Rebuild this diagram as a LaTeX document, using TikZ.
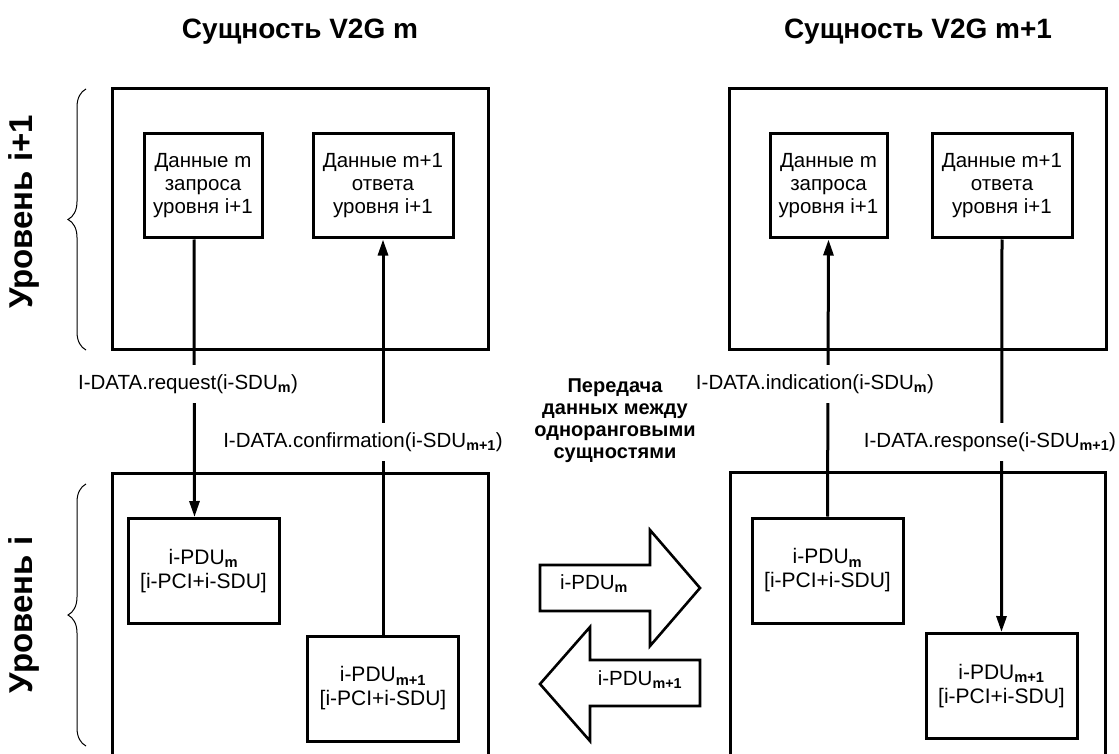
\documentclass[tikz,border=0pt]{standalone}
\usepackage{fontspec}
\setmainfont{Liberation Sans}
\usetikzlibrary{arrows.meta,decorations.pathreplacing,positioning}

\newcommand{\lowidx}[1]{\textsubscript{\bfseries #1}}

\tikzset{
  frameline/.style={line width=3pt},
  databox/.style={draw, line width=3pt, align=center, inner sep=0pt},
  primbox/.style={draw, line width=3pt, align=center, inner sep=0pt,
    minimum width=151pt, minimum height=105pt, font=\fontsize{21}{24}\selectfont},
  primlabel/.style={fill=white, inner xsep=1pt, inner ysep=9pt},
  flow/.style={line width=3pt, -{Triangle[length=16pt,width=10pt]}},
  bigarrow/.style={line width=2.6pt, line join=miter},
  leveltext/.style={rotate=90, font=\fontsize{33}{36}\selectfont\bfseries},
  headtext/.style={font=\fontsize{28}{32}\selectfont\bfseries}
}

\begin{document}
\begin{tikzpicture}[x=1pt, y=-1pt, font=\fontsize{20.5}{23}\selectfont]
\useasboundingbox (0,0) rectangle (1119,754);

% entity titles
\node[headtext] (headm) at (300,32) {Сущность V2G m};
\node[headtext] (headn) at (918,32) {Сущность V2G m+1};

% levels on the left
\node[leveltext] (lvlup) at (24,212) {Уровень i+1};
\node[leveltext] (lvllow) at (24,615) {Уровень i};
\draw[line width=1pt, decorate, decoration={brace, amplitude=18pt}] (86,350) -- (86,89);
\draw[line width=1pt, decorate, decoration={brace, amplitude=18pt}] (86,746) -- (86,484);

% upper level frames
\draw[frameline] (112,89) rectangle (488,349);
\draw[frameline] (729,89) rectangle (1106,349);

% lower level frames (open at the bottom)
\draw[frameline] (112,754) -- (112,473) -- (488,473) -- (488,754);
\draw[frameline] (730,754) -- (730,472) -- (1105,472) -- (1105,754);

% data boxes of level i+1
\node[databox, minimum width=118pt, minimum height=104pt] (lreq) at (203,186) {Данные m\\запроса\\уровня i+1};
\node[databox, minimum width=140pt, minimum height=104pt] (lresp) at (383,186) {Данные m+1\\ответа\\уровня i+1};
\node[databox, minimum width=117pt, minimum height=104pt] (rreq) at (828.5,186) {Данные m\\запроса\\уровня i+1};
\node[databox, minimum width=140pt, minimum height=104pt] (rresp) at (1002,186) {Данные m+1\\ответа\\уровня i+1};

% PDU boxes of level i
\node[primbox] (lpdu) at (203.5,571) {i-PDU\lowidx{m}\\{}[i-PCI+i-SDU]};
\node[primbox] (lpdun) at (383,688.5) {i-PDU\lowidx{m+1}\\{}[i-PCI+i-SDU]};
\node[primbox] (rpdu) at (827.5,570.5) {i-PDU\lowidx{m}\\{}[i-PCI+i-SDU]};
\node[primbox] (rpdun) at (1001.5,686) {i-PDU\lowidx{m+1}\\{}[i-PCI+i-SDU]};

% service primitives
\draw[flow] ([xshift=-9pt]lreq.south) -- ([xshift=-9pt]lpdu.north);
\draw[flow] (lpdun.north) -- (lresp.south);
\draw[flow] (rpdu.north) -- (rreq.south);
\draw[flow] (rresp.south) -- (rpdun.north);

\node[primlabel] (reqlbl) at (188,384) {I-DATA.request(i-SDU\lowidx{m})};
\node[primlabel] (conflbl) at (363,442) {I-DATA.confirmation(i-SDU\lowidx{m+1})};
\node[primlabel] (indlbl) at (815,384) {I-DATA.indication(i-SDU\lowidx{m})};
\node[primlabel] (resplbl) at (990,442) {I-DATA.response(i-SDU\lowidx{m+1})};

% peer transfer
\node[align=center, font=\fontsize{20}{22}\selectfont\bfseries] (peer) at (615,421)
  {Передача\\данных между\\одноранговыми\\сущностями};

\draw[bigarrow] (540,565) -- (650,565) -- (650,530) -- (700,588) -- (650,646) -- (650,611) -- (540,611) -- cycle;
\node (fwdlbl) at (594,584) {i-PDU\lowidx{m}};

\draw[bigarrow] (700,660) -- (590,660) -- (590,627) -- (540,684) -- (590,741) -- (590,706) -- (700,706) -- cycle;
\node (bwdlbl) at (640,680) {i-PDU\lowidx{m+1}};
\end{tikzpicture}
\end{document}
